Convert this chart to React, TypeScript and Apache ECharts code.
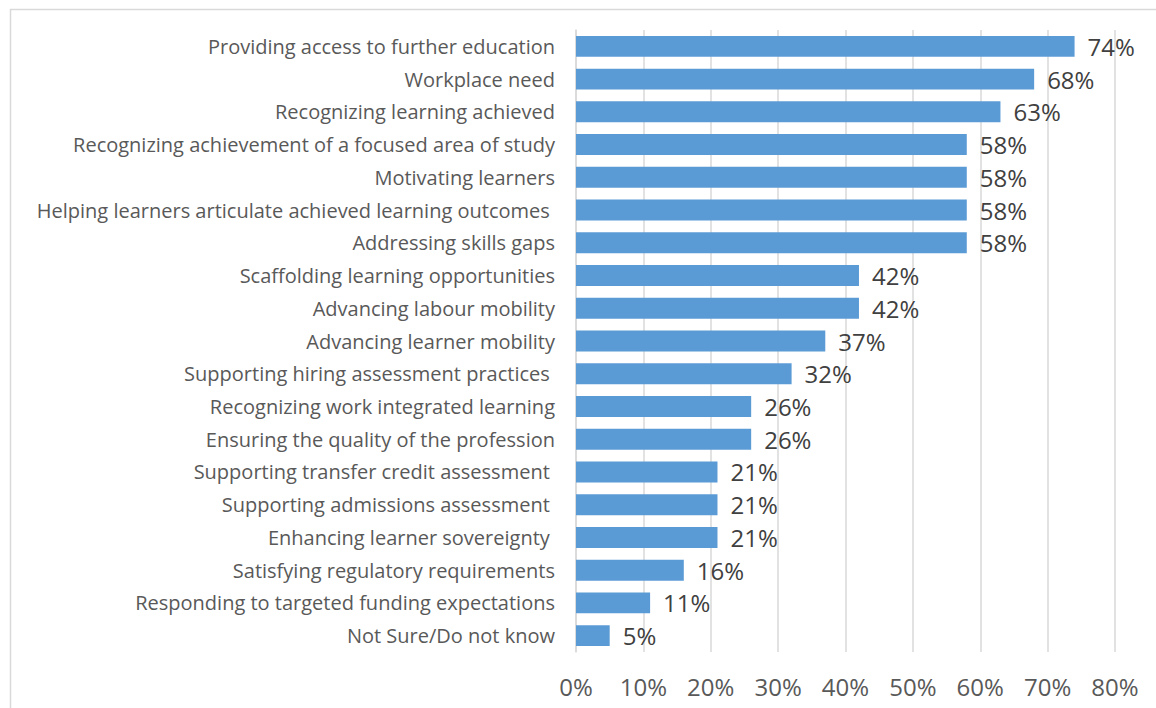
import React, { useEffect, useRef } from "react";
import * as echarts from "echarts";

const categories = [
  "Providing access to further education",
  "Workplace need",
  "Recognizing learning achieved",
  "Recognizing achievement of a focused area of study",
  "Motivating learners",
  "Helping learners articulate achieved learning outcomes ",
  "Addressing skills gaps",
  "Scaffolding learning opportunities",
  "Advancing labour mobility",
  "Advancing learner mobility",
  "Supporting hiring assessment practices ",
  "Recognizing work integrated learning",
  "Ensuring the quality of the profession",
  "Supporting transfer credit assessment ",
  "Supporting admissions assessment ",
  "Enhancing learner sovereignty ",
  "Satisfying regulatory requirements",
  "Responding to targeted funding expectations",
  "Not Sure/Do not know",
];

const values = [74, 68, 63, 58, 58, 58, 58, 42, 42, 37, 32, 26, 26, 21, 21, 21, 16, 11, 5];

const FONT = "Open Sans";

export default function App() {
  const ref = useRef<HTMLDivElement>(null);
  useEffect(() => {
    if (!ref.current) return;
    const chart = echarts.init(ref.current, undefined, { renderer: "svg" });
    chart.setOption({
      animation: false,
      backgroundColor: "#ffffff",
      graphic: [
        {
          type: "rect",
          left: 8,
          top: 7,
          shape: { x: 0, y: 0, width: 1300, height: 900 },
          style: { fill: "none", stroke: "#d9d9d9", lineWidth: 1.5 },
          silent: true,
        },
      ],
      grid: { left: 576, right: 41, top: 30, bottom: 56, containLabel: false },
      xAxis: {
        type: "value",
        min: 0,
        max: 80,
        interval: 10,
        axisLine: { show: false },
        axisTick: { show: false },
        splitLine: { show: true, lineStyle: { color: "#d9d9d9", width: 1.5 } },
        axisLabel: {
          formatter: "{value}%",
          color: "#595959",
          fontSize: 24,
          fontFamily: FONT,
          margin: 22,
        },
      },
      yAxis: {
        type: "category",
        data: categories,
        inverse: true,
        axisTick: { show: false },
        axisLine: { show: true, lineStyle: { color: "#d9d9d9", width: 1.5 } },
        axisLabel: {
          color: "#595959",
          fontSize: 20,
          fontFamily: FONT,
          margin: 21,
        },
      },
      series: [
        {
          type: "bar",
          data: values,
          barCategoryGap: "36%",
          itemStyle: { color: "#5b9bd5" },
          label: {
            show: true,
            position: "right",
            distance: 13,
            formatter: "{c}%",
            color: "#404040",
            fontSize: 24,
            fontFamily: FONT,
          },
        },
      ],
    });
    return () => chart.dispose();
  }, []);
  return (
    <div
      ref={ref}
      style={{ position: "fixed", left: 0, top: 0, width: 1156, height: 708 }}
    />
  );
}
